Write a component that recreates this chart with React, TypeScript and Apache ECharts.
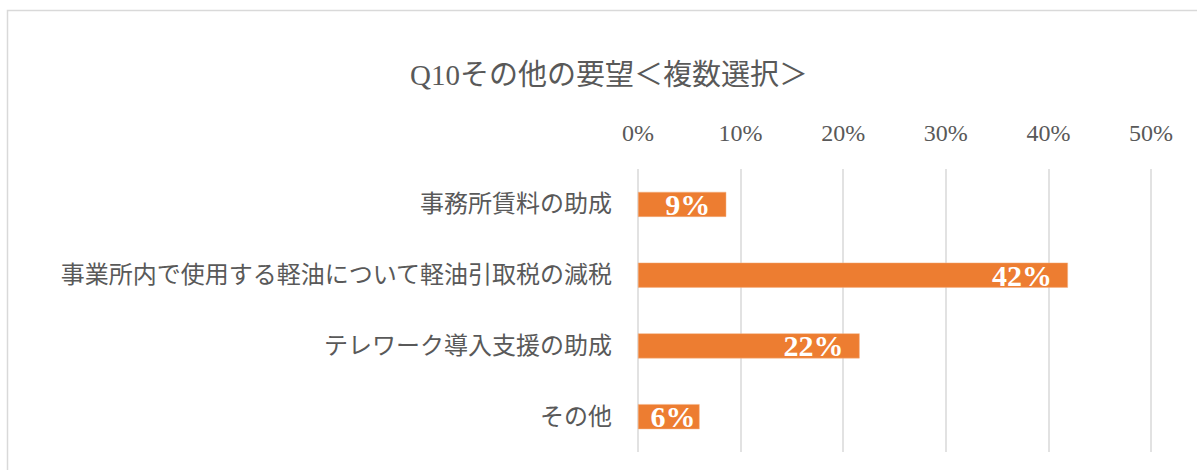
import React, { useEffect, useRef } from "react";
import * as echarts from "echarts";

const title = "Q10その他の要望＜複数選択＞";
const categories = [
  "事務所賃料の助成",
  "事業所内で使用する軽油について軽油引取税の減税",
  "テレワーク導入支援の助成",
  "その他",
];
const values = [0.086, 0.419, 0.216, 0.06];
const labelInsets = [16, 16, 16, 4];
const tickMax = 0.5;
const tickStep = 0.1;

const SERIF = '"Liberation Serif", "DejaVu Serif", "Noto Sans CJK JP", serif';
const TEXT = "#595959";

export default function App() {
  const ref = useRef<HTMLDivElement>(null);
  useEffect(() => {
    if (!ref.current) return;
    const chart = echarts.init(ref.current, undefined, { renderer: "svg" });
    chart.setOption({
      animation: false,
      backgroundColor: "#ffffff",
      title: {
        text: title,
        left: 604,
        top: 55,
        textAlign: "center",
        textStyle: { fontFamily: SERIF, fontSize: 29, fontWeight: "normal", color: TEXT },
      },
      graphic: [
        {
          type: "rect",
          shape: { x: 7.5, y: 10.5, width: 1200, height: 500 },
          style: { fill: "none", stroke: "#D9D9D9", lineWidth: 1.5 },
          silent: true,
        },
      ],
      grid: { left: 638, right: 1197 - 1151, top: 169, bottom: 470 - 452, containLabel: false },
      xAxis: {
        type: "value",
        position: "top",
        min: 0,
        max: tickMax,
        interval: tickStep,
        axisLine: { show: false },
        axisTick: { show: false },
        splitLine: { show: true, lineStyle: { color: "#D9D9D9", width: 1.5 } },
        axisLabel: {
          fontFamily: SERIF,
          fontSize: 24,
          color: TEXT,
          margin: 24,
          formatter: (v: number) => Math.round(v * 100) + "%",
        },
      },
      yAxis: {
        type: "category",
        inverse: true,
        data: categories,
        axisLine: { show: false },
        axisTick: { show: false },
        axisLabel: { fontFamily: SERIF, fontSize: 24, color: TEXT, margin: 26 },
      },
      series: [
        {
          type: "bar",
          data: values.map((v, i) => ({ value: v, label: { distance: labelInsets[i] } })),
          barWidth: 25,
          itemStyle: { color: "#ED7D31", borderColor: "#F4B183", borderWidth: 0.5 },
          label: {
            show: true,
            position: "insideRight",
            distance: 16,
            fontFamily: SERIF,
            fontSize: 30,
            fontWeight: "bold",
            color: "#ffffff",
            formatter: (p: any) => Math.round(p.value * 100) + "%",
          },
        },
      ],
    });
    return () => chart.dispose();
  }, []);
  return (
    <div
      ref={ref}
      style={{ position: "fixed", left: 0, top: 0, width: 1197, height: 470 }}
    />
  );
}
